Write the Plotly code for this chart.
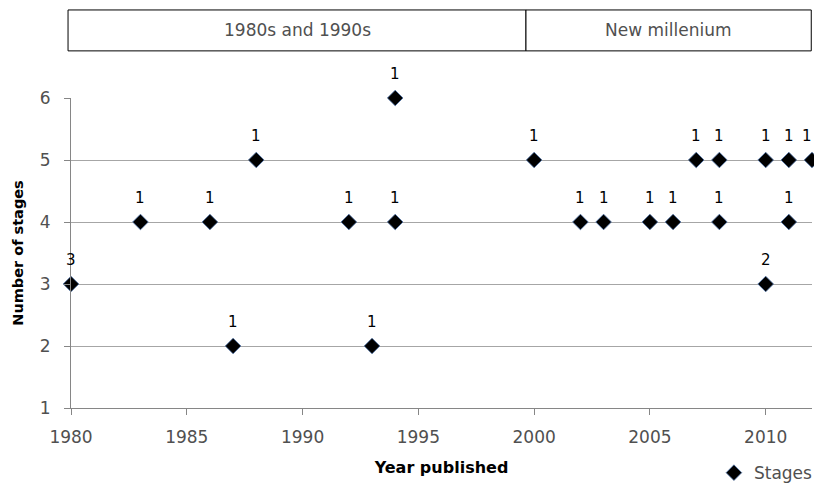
import plotly.graph_objects as go

years = [1980, 1983, 1986, 1987, 1988, 1992, 1993, 1994, 1994, 2000, 2002, 2003,
         2005, 2006, 2007, 2008, 2008, 2010, 2010, 2011, 2011, 2012]
stages = [3, 4, 4, 2, 5, 4, 2, 6, 4, 5, 4, 4, 4, 4, 5, 5, 4, 5, 3, 5, 4, 5]
counts = [3, 1, 1, 1, 1, 1, 1, 1, 1, 1, 1, 1, 1, 1, 1, 1, 1, 1, 2, 1, 1, 1]
era_labels = ["1980s and 1990s", "New millenium"]

X_MAX = 2012
FONT = "DejaVu Sans"
GREY = "#505050"

fig = go.Figure()
fig.add_trace(go.Scatter(
    x=years, y=stages, mode="markers", name="Stages",
    marker=dict(symbol="diamond", size=12, color="black",
                line=dict(color="#4a6fa5", width=0.8)),
    cliponaxis=False, showlegend=True,
))

annotations = []
for x, y, c in zip(years, stages, counts):
    annotations.append(dict(x=x, y=y, text=str(c), showarrow=False,
                            yshift=24, xshift=(-5 if x >= X_MAX else 0),
                            font=dict(size=15, color="black", family=FONT)))

# header boxes
shapes = [
    dict(type="rect", xref="paper", yref="paper", x0=-0.004, x1=0.614,
         y0=1.152, y1=1.284, line=dict(color="black", width=1), fillcolor="white"),
    dict(type="rect", xref="paper", yref="paper", x0=0.614, x1=0.999,
         y0=1.152, y1=1.284, line=dict(color="black", width=1), fillcolor="white"),
]
annotations.append(dict(xref="paper", yref="paper", x=(-0.004 + 0.614) / 2, y=1.218,
                        xanchor="center", yanchor="middle", text=era_labels[0],
                        showarrow=False, font=dict(size=17, color=GREY, family=FONT)))
annotations.append(dict(xref="paper", yref="paper", x=(0.614 + 0.999) / 2, y=1.218,
                        xanchor="center", yanchor="middle", text=era_labels[1],
                        showarrow=False, font=dict(size=17, color=GREY, family=FONT)))

fig.update_layout(
    width=814, height=484,
    margin=dict(l=71, r=2, t=98, b=76, autoexpand=False),
    paper_bgcolor="white", plot_bgcolor="white",
    font=dict(family=FONT, size=17, color=GREY),
    shapes=shapes, annotations=annotations,
    legend=dict(orientation="h", x=1.008, xanchor="right", y=-0.21, yanchor="middle",
                font=dict(size=17, color=GREY), bgcolor="rgba(0,0,0,0)",
                itemwidth=30),
    xaxis=dict(range=[1980, X_MAX], dtick=5, tick0=1980, showgrid=False,
               showline=True, linecolor="#868686", linewidth=1,
               ticks="outside", ticklen=6, tickcolor="#868686",
               zeroline=False, automargin=False, ticklabelstandoff=8,
               tickfont=dict(size=17),
               title=dict(text="<b>Year published</b>", standoff=15,
                          font=dict(size=16, color="black"))),
    yaxis=dict(range=[1, 6], dtick=1, showgrid=True, gridcolor="#a6a6a6", gridwidth=1,
               showline=True, linecolor="#868686", linewidth=1,
               ticks="outside", ticklen=6, tickcolor="#868686",
               zeroline=False, automargin=False, ticklabelstandoff=10,
               tickfont=dict(size=17),
               title=dict(text="<b>Number of stages</b>", standoff=12,
                          font=dict(size=14.5, color="black"))),
)

fig.write_html("out.html", config={"displayModeBar": False},
               post_script="document.body.style.margin='0px';document.body.style.overflow='hidden';")
